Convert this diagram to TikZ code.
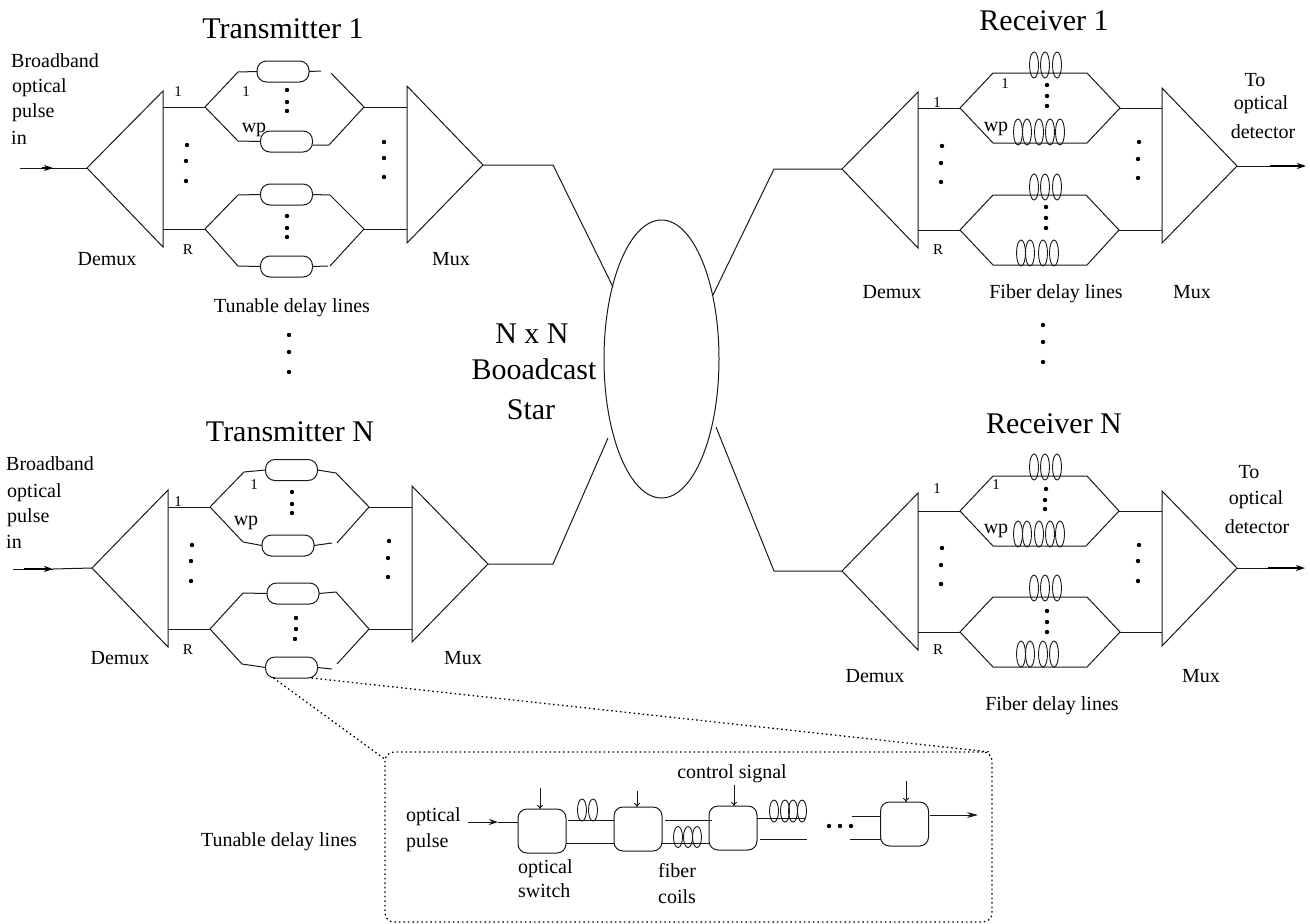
\documentclass[tikz,border=0pt]{standalone}
\usepackage{fontspec}
\setmainfont{Liberation Serif}
\usetikzlibrary{arrows.meta,shapes.geometric}
\tikzset{
  wire/.style={draw=black!90,line width=1pt,line join=miter},
  tube/.style={draw=black!90,line width=1pt,rounded corners=9.5pt,minimum width=52pt,minimum height=21pt,inner sep=0pt,outer sep=0pt},
  switchbox/.style={draw=black!90,line width=1pt,rounded corners=9pt,minimum width=48pt,minimum height=44pt,inner sep=0pt,outer sep=0pt},
  lab/.style={inner sep=0pt,anchor=base,font=\fontsize{20}{20}\selectfont,text=black},
  labl/.style={lab,anchor=base west},
  tiny lab/.style={lab,font=\fontsize{15}{15}\selectfont},
  title lab/.style={lab,font=\fontsize{30}{30}\selectfont},
  inarrow/.style={draw=black,line width=1.3pt,-{Stealth[length=9pt,width=6pt]}},
  ctlarrow/.style={draw=black!90,line width=0.9pt,-{To[length=4pt,width=6pt]}},
  zoomline/.style={draw=black,line width=1.3pt,dash pattern=on 1.5pt off 3pt},
  coil/.style={draw=black!90,line width=0.9pt}
}
\newcommand{\dotsat}[1]{\foreach \p in {#1} {\fill[black] \p circle (2.2);}}
% coils: #1 = y, #2 = y radius, #3 = list of x
\newcommand{\coils}[3]{\foreach \cx in {#3} {\draw[coil] (\cx,#1) ellipse [x radius=4.5,y radius=#2];}}
\begin{document}
\begin{tikzpicture}[x=1pt,y=-1pt]
\useasboundingbox (0,0) rectangle (1310,924);
\fill[white] (0,0) rectangle (1310,924);

% ---------- star ----------
\node[draw=black!90,line width=1pt,ellipse,minimum width=115pt,minimum height=278pt,inner sep=0pt] (star) at (661.5,359) {};
\coordinate (sT1) at (613,287);
\coordinate (sTN) at (608,438);
\coordinate (sR1) at (713,295);
\coordinate (sRN) at (716,427);
\node[title lab] (nxn) at (532,343) {N x N};
\node[title lab] (bcast) at (534,379) {Booadcast};
\node[title lab] (starl) at (531,419) {Star};

% ---------- Transmitter 1 ----------
\node[title lab] (t1title) at (283,38) {Transmitter 1};
\coordinate (a1) at (87,168); \coordinate (a1t) at (163,91); \coordinate (a1b) at (163,247);
\coordinate (a1in) at (20,168); \coordinate (a1m) at (53,168);
\draw[wire] (a1in) -- (a1m);
\draw[inarrow] (42,168) -- (a1m);
\draw[wire] (a1m) -- (a1);
\draw[wire] (a1) -- (a1t) -- (a1b) -- cycle;
\coordinate (a2) at (483,165); \coordinate (a2t) at (407,86); \coordinate (a2b) at (407,243);
\draw[wire] (a2) -- (a2t) -- (a2b) -- cycle;
\coordinate (u1) at (205,107); \coordinate (u2) at (364,107);
\coordinate (l1) at (205,229); \coordinate (l2) at (364,229);
\draw[wire] (163,107) -- (u1) (u2) -- (407,107) (163,229) -- (l1) (l2) -- (407,229);
\node[tube] (t1a) at (283,71.5) {};
\node[tube] (t1b) at (286.5,141.5) {};
\node[tube] (t1c) at (286.5,194.5) {};
\node[tube] (t1d) at (286.5,266.5) {};
\draw[wire] (u1) -- (238,72) -- (t1a.west) (t1a.east) -- (321,71) (331,73) -- (u2);
\draw[wire] (u1) -- (238,141) -- (t1b.west) ([yshift=-3.5pt]t1b.east) -- (329,145) -- (u2);
\draw[wire] (l1) -- (238,195) -- (t1c.west) (t1c.east) -- (330,195) -- (l2);
\draw[wire] (l1) -- (238,266) -- (t1d.west) (t1d.east) -- (328,266) (330,266) -- (l2);
\draw[wire] (a2) -- (553,165) -- (sT1);
\dotsat{(287,90),(287,102),(287,111),(187,145),(186,161),(186,181),(384,142),(384,158),(384,177),(287,216),(287,228),(287,237),(289,335),(289,352),(289,372)}
\node[tiny lab] (t1n1) at (178,96) {1};
\node[tiny lab] (t1n2) at (246,96) {1};
\node[lab] (t1w) at (254,132) {wp};
\node[tiny lab] (t1r) at (188,254) {R};
\node[lab] (t1dm) at (107,265) {Demux};
\node[lab] (t1mx) at (451,265) {Mux};
\node[lab] (t1tl) at (292,312) {Tunable delay lines};
\node[labl] (t1i1) at (11,67) {Broadband};
\node[labl] (t1i2) at (12,92) {optical};
\node[labl] (t1i3) at (12,117) {pulse};
\node[labl] (t1i4) at (11,144) {in};

% ---------- Transmitter N ----------
\node[title lab] (tntitle) at (290,441) {Transmitter N};
\coordinate (b1) at (92,568); \coordinate (b1t) at (168,490); \coordinate (b1b) at (168,647);
\coordinate (b1in) at (13,569); \coordinate (b1m) at (53,569);
\draw[wire] (b1in) -- (b1m);
\draw[inarrow] (24,569) -- (b1m);
\draw[wire] (b1m) -- (b1);
\draw[wire] (b1) -- (b1t) -- (b1b) -- cycle;
\coordinate (b2) at (488,564); \coordinate (b2t) at (412,486); \coordinate (b2b) at (412,642);
\draw[wire] (b2) -- (b2t) -- (b2b) -- cycle;
\coordinate (v1) at (210,507); \coordinate (v2) at (369,507);
\coordinate (w1) at (210,629); \coordinate (w2) at (369,629);
\draw[wire] (168,507) -- (v1) (v2) -- (412,507) (168,629) -- (w1) (w2) -- (412,629);
\node[tube] (tna) at (291.5,470) {};
\node[tube] (tnb) at (288,545.5) {};
\node[tube] (tnc) at (293,593.5) {};
\node[tube] (tnd) at (291.5,667.5) {};
\draw[wire] (v1) -- (244,472) -- (tna.west) (tna.east) -- (336,473) -- (v2);
\draw[wire] (v1) -- (243,542) -- (tnb.west) (tnb.east) -- (332,543) (337,543) -- (v2);
\draw[wire] (w1) -- (243,593) -- (tnc.west) (tnc.east) -- (336,592) -- (w2);
\draw[wire] (w1) -- (242,664) -- (tnd.west) (tnd.east) -- (332,669) (337,664) -- (w2);
\draw[wire] (b2) -- (553,564) -- (sTN);
\dotsat{(292,492),(292,504),(292,513),(192,545),(191,561),(191,581),(389,541),(388,558),(388,577),(296,618),(296,629),(295,639)}
\node[tiny lab] (tnn1) at (178,506) {1};
\node[tiny lab] (tnn2) at (254,489) {1};
\node[lab] (tnw) at (246,525) {wp};
\node[tiny lab] (tnr) at (188,654) {R};
\node[lab] (tndm) at (120,664) {Demux};
\node[lab] (tnmx) at (463,664) {Mux};
\node[labl] (tni1) at (6,470) {Broadband};
\node[labl] (tni2) at (7,497) {optical};
\node[labl] (tni3) at (7,522) {pulse};
\node[labl] (tni4) at (6,548) {in};

% ---------- Receiver 1 ----------
\node[title lab] (r1title) at (1044,30) {Receiver 1};
\coordinate (c1) at (842,169); \coordinate (c1t) at (918,92); \coordinate (c1b) at (918,248);
\coordinate (c1o) at (774,169);
\draw[wire] (c1) -- (c1t) -- (c1b) -- cycle;
\draw[wire] (sR1) -- (c1o) -- (c1);
\coordinate (c2) at (1237,166); \coordinate (c2t) at (1162,88); \coordinate (c2b) at (1162,243);
\coordinate (c2o) at (1306,166); \coordinate (c2m) at (1270,166);
\draw[wire] (c2) -- (c2t) -- (c2b) -- cycle;
\draw[wire] (c2) -- (c2m);
\draw[inarrow] (c2m) -- (c2o);
\coordinate (p1) at (960,108); \coordinate (p2) at (1120,108);
\coordinate (q1) at (960,230); \coordinate (q2) at (1119,230);
\draw[wire] (918,108) -- (p1) (p2) -- (1162,108) (918,230) -- (q1) (q2) -- (1162,230);
\draw[wire] (p1) -- (993,73) -- (1087,73) -- (p2) -- (1087,143) -- (993,143) -- cycle;
\draw[wire] (q1) -- (993,195) -- (1086,195) -- (q2) -- (1087,265) -- (993,265) -- cycle;
\coils{65}{13}{1034,1045,1057}
\coils{132}{13}{1018,1027,1039,1050,1060}
\coils{187}{13}{1034,1045,1057}
\coils{253}{13}{1021,1030,1043,1054}
\dotsat{(1047,85),(1047,96),(1047,106),(942,146),(941,163),(941,182),(1139,142),(1138,159),(1138,178),(1046,207),(1046,218),(1046,228),(1043,325),(1043,342),(1043,362)}
\node[tiny lab] (r1n1) at (937,107) {1};
\node[tiny lab] (r1n2) at (1005,88) {1};
\node[lab] (r1w) at (996,131) {wp};
\node[tiny lab] (r1r) at (938,254) {R};
\node[lab] (r1dm) at (892,298) {Demux};
\node[lab] (r1fb) at (1056,298) {Fiber delay lines};
\node[lab] (r1mx) at (1192,298) {Mux};
\node[lab] (r1o1) at (1255,86) {To};
\node[lab] (r1o2) at (1261,109) {optical};
\node[lab] (r1o3) at (1263,138) {detector};

% ---------- Receiver N ----------
\node[title lab] (rntitle) at (1054,433) {Receiver N};
\coordinate (d1) at (842,571); \coordinate (d1t) at (918,493); \coordinate (d1b) at (918,650);
\coordinate (d1o) at (774,571);
\draw[wire] (d1) -- (d1t) -- (d1b) -- cycle;
\draw[wire] (sRN) -- (d1o) -- (d1);
\coordinate (d2) at (1237,568); \coordinate (d2t) at (1162,491); \coordinate (d2b) at (1162,646);
\coordinate (d2o) at (1305,568); \coordinate (d2m) at (1268,568);
\draw[wire] (d2) -- (d2t) -- (d2b) -- cycle;
\draw[wire] (d2) -- (d2m);
\draw[inarrow] (d2m) -- (d2o);
\coordinate (f1) at (960,511); \coordinate (f2) at (1119,511);
\coordinate (g1) at (960,632); \coordinate (g2) at (1120,632);
\draw[wire] (918,511) -- (f1) (f2) -- (1162,511) (918,632) -- (g1) (g2) -- (1162,632);
\draw[wire] (f1) -- (993,476) -- (1087,476) -- (f2) -- (1086,546) -- (993,546) -- cycle;
\draw[wire] (g1) -- (993,597) -- (1087,597) -- (g2) -- (1087,667) -- (993,667) -- cycle;
\coils{467}{13}{1034,1045,1057}
\coils{534}{13}{1018,1027,1039,1050,1060}
\coils{588}{13}{1034,1045,1057}
\coils{654}{13}{1021,1030,1043,1054}
\dotsat{(1046,489),(1045,500),(1045,509),(942,548),(941,565),(941,584),(1139,545),(1138,561),(1138,581),(1047,611),(1047,622),(1047,632)}
\node[tiny lab] (rnn1) at (937,493) {1};
\node[tiny lab] (rnn2) at (996,489) {1};
\node[lab] (rnw) at (996,533) {wp};
\node[tiny lab] (rnr) at (938,654) {R};
\node[lab] (rndm) at (875,682) {Demux};
\node[lab] (rnmx) at (1201,682) {Mux};
\node[lab] (rnfb) at (1052,710) {Fiber delay lines};
\node[lab] (rno1) at (1249,478) {To};
\node[lab] (rno2) at (1256,504) {optical};
\node[lab] (rno3) at (1257,533) {detector};

% ---------- inset ----------
\node[zoomline,rounded corners=9pt,minimum width=607pt,minimum height=170pt,inner sep=0pt] (inset) at (688.5,837) {};
\coordinate (zl) at (386,760);
\coordinate (zr) at (990,752);
\draw[zoomline] ([xshift=8pt]tnd.south west) -- (zl);
\draw[zoomline] ([xshift=-6pt]tnd.south east) -- (zr);
\node[lab] (insl) at (279,846) {Tunable delay lines};
\node[switchbox] (s1) at (542,831) {};
\node[switchbox] (s2) at (638,829) {};
\node[switchbox] (s3) at (733,828) {};
\node[switchbox] (s4) at (904.5,824) {};
\coordinate (p0) at (468,822); \coordinate (p0m) at (498,822);
\draw[wire,-{Stealth[length=9pt,width=6pt]}] (p0) -- (p0m);
\draw[wire] (p0m) -- (s1.west |- p0m);
\draw[wire] (568,820) -- (s2.west |- 0,820);
\draw[wire] (s1.east |- 0,843) -- (s2.west |- 0,843);
\draw[wire] (665,820) -- (712,820);
\draw[wire] (s2.east |- 0,843) -- (s3.west |- 0,843);
\draw[wire] (s3.east |- 0,818) -- (805,818);
\draw[wire] (760,839) -- (807,839);
\draw[wire] (852,816) -- (s4.west |- 0,816);
\draw[wire] (850,839) -- (s4.west |- 0,839);
\coordinate (s4o) at (978,815);
\draw[wire,-{Stealth[length=11pt,width=6pt]}] (930,815) -- (s4o);
\coils{810}{11}{582,593}
\coils{837}{10.5}{678,688,697}
\coils{811}{11}{774,785,793,802}
\dotsat{(829,826),(840,826),(851,826)}
\coordinate (c1a) at (540,788); \coordinate (c2a) at (637,791);
\coordinate (c3a) at (734,785); \coordinate (c4a) at (906,781);
\draw[ctlarrow] (c1a) -- (s1.north -| c1a);
\draw[ctlarrow] (c2a) -- (s2.north -| c2a);
\draw[ctlarrow] (c3a) -- (s3.north -| c3a);
\draw[ctlarrow] (c4a) -- (s4.north -| c4a);
\node[labl] (ii1) at (406,821) {optical};
\node[labl] (ii2) at (406,847) {pulse};
\node[labl] (ii3) at (518,873) {optical};
\node[labl] (ii4) at (518,897) {switch};
\node[labl] (ii5) at (658,877) {fiber};
\node[labl] (ii6) at (658,903) {coils};
\node[lab] (ii7) at (732,778) {control signal};
\end{tikzpicture}
\end{document}
